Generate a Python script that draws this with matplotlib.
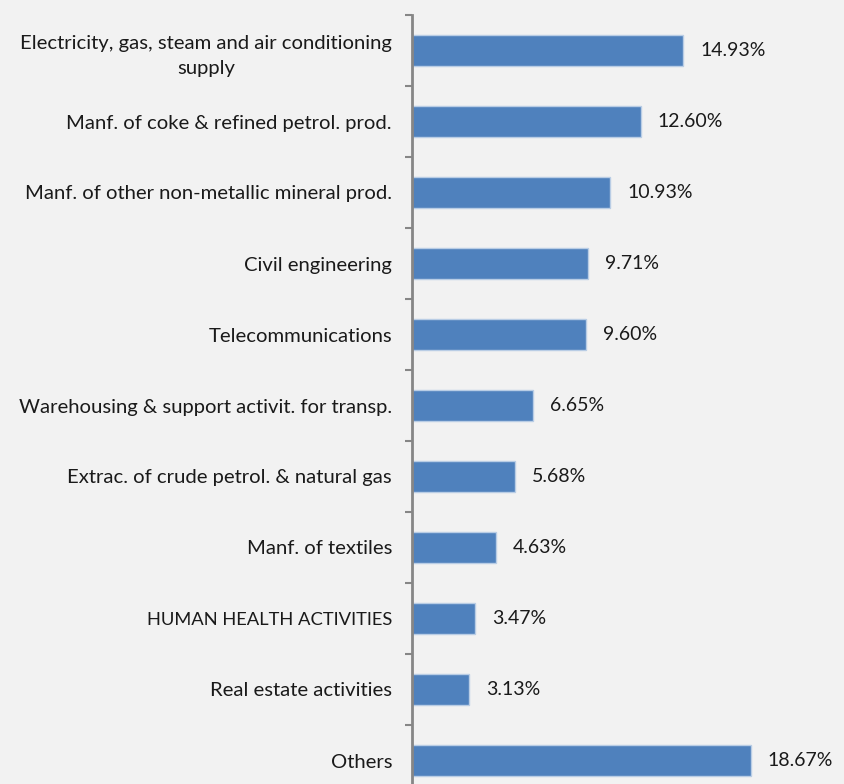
import matplotlib
matplotlib.use("Agg")
import matplotlib.pyplot as plt

categories = [
    "Electricity, gas, steam and air conditioning\nsupply",
    "Manf. of coke & refined petrol. prod.",
    "Manf. of other non-metallic mineral prod.",
    "Civil engineering",
    "Telecommunications",
    "Warehousing & support activit. for transp.",
    "Extrac. of crude petrol. & natural gas",
    "Manf. of textiles",
    "HUMAN HEALTH ACTIVITIES",
    "Real estate activities",
    "Others",
]
shares = [14.93, 12.60, 10.93, 9.71, 9.60, 6.65, 5.68, 4.63, 3.47, 3.13, 18.67]

plt.rcParams["font.family"] = ["Lato", "DejaVu Sans"]

W, H, DPI = 844, 784, 100
fig = plt.figure(figsize=(W / DPI, H / DPI), dpi=DPI)
bg = "#f2f2f2"
fig.patch.set_facecolor(bg)

left_px, right_px, top_px, bottom_px = 412, 844, 15, 796
ax = fig.add_axes([left_px / W, 1 - bottom_px / H,
                   (right_px - left_px) / W, (bottom_px - top_px) / H])
ax.set_facecolor(bg)

y = list(range(len(categories)))
ax.barh(y, shares, height=0.44, color="#4f81bd", edgecolor="#b9cde5", linewidth=1.0)

for yi, v in zip(y, shares):
    ax.annotate(f"{v:.2f}%", xy=(v, yi), xytext=(17, 0), textcoords="offset pixels",
                va="center", ha="left", fontsize=14, color="#1a1a1a")

ax.set_xlim(0, (right_px - left_px) / 18.15)
ax.set_ylim(len(categories) - 0.5, -0.5)

ax.set_yticks(y)
ax.set_yticklabels(categories, fontsize=14.6, color="#1a1a1a",
                   linespacing=1.6, multialignment="center")
ax.set_yticks([i - 0.5 for i in range(len(categories) + 1)], minor=True)
ax.tick_params(axis="y", which="major", length=0, pad=14.4)
ax.tick_params(axis="y", which="minor", length=5, width=1.5, color="#868686", direction="out")
ax.set_xticks([])

for lab in ax.get_yticklabels():
    if lab.get_text().isupper():
        lab.set_fontsize(13.2)

for side in ("top", "right", "bottom"):
    ax.spines[side].set_visible(False)
ax.spines["left"].set_color("#868686")
ax.spines["left"].set_linewidth(2)

fig.savefig("out.png", dpi=DPI, facecolor=bg)
